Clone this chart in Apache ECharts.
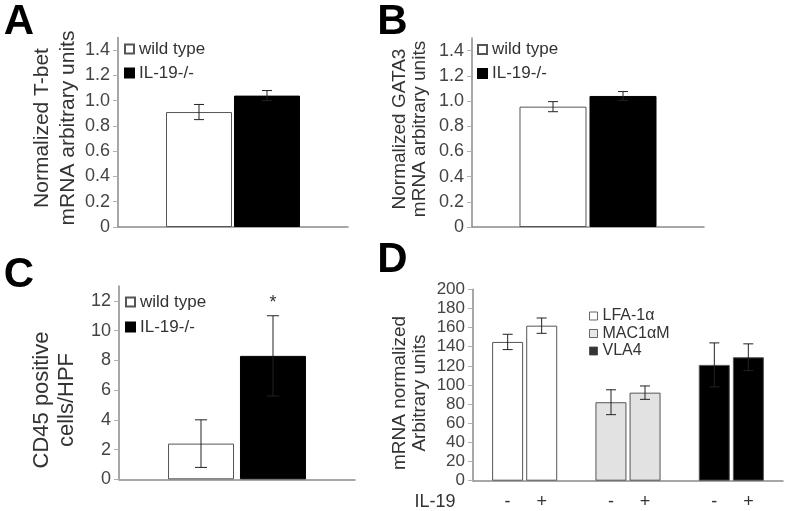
<!DOCTYPE html>
<html>
<head>
<meta charset="utf-8">
<script src="https://cdn.jsdelivr.net/npm/echarts@6/dist/echarts.min.js"></script>
<style>
html, body { margin: 0; padding: 0; background: #fff; }
#main { width: 788px; height: 511px; }
</style>
</head>
<body>
<div id="main"></div>
<script>
// data
var groupNames = ['wild type', 'IL-19-/-'];

var tbetMean = [0.91, 1.04];     // panel A
var tbetErr = [0.06, 0.04];
var gataMean = [0.955, 1.04];    // panel B
var gataErr = [0.04, 0.035];
var cd45Mean = [2.4, 8.3];       // panel C
var cd45Err = [1.6, 2.7];
var cd45Marks = ['', '*'];

var integrins = ['LFA-1α', 'MAC1αM', 'VLA4'];   // panel D
var il19Signs = ['-', '+'];
var minusMean = [145, 82, 121];
var minusErr = [8, 13, 23];
var plusMean = [162, 92, 129];
var plusErr = [8, 7, 14];

var mrnaMax = 1.5, mrnaStep = 0.2;
var cellsMax = 13, cellsStep = 2;
var unitsMax = 200, unitsStep = 20;

var FONT = "'Liberation Sans', Arial, sans-serif";
var integrinColors = ['#ffffff', '#e2e2e2', '#000000'];
var groupStyles = [
    { color: '#ffffff', borderColor: '#555', borderWidth: 1 },
    { color: '#000000', borderColor: '#000', borderWidth: 1 }
];

var myChart = echarts.init(document.getElementById('main'));

function yAxisFor(idx, max, step, size, fmt) {
    return {
        type: 'value',
        gridIndex: idx,
        min: 0,
        max: max,
        interval: step,
        axisLine: { show: true, lineStyle: { color: '#8a8a8a', width: 1.5 } },
        axisTick: { show: true, length: 5, lineStyle: { color: '#b0b0b0' } },
        splitLine: { show: false },
        axisLabel: { fontSize: size, color: '#444', margin: 8, fontFamily: FONT, formatter: fmt }
    };
}

function xAxisFor(idx, cats) {
    return {
        type: 'category',
        gridIndex: idx,
        data: cats,
        axisLine: { show: true, lineStyle: { color: '#8a8a8a', width: 1.5 } },
        axisTick: { show: false },
        axisLabel: { show: false },
        splitLine: { show: false }
    };
}

function errorBars(idx, items, offsets, cap, marks) {
    return {
        type: 'custom',
        xAxisIndex: idx,
        yAxisIndex: idx,
        silent: true,
        z: 5,
        data: items,
        renderItem: function (params, api) {
            var top = api.coord([api.value(0), api.value(1) + api.value(2)]);
            var low = api.coord([api.value(0), api.value(1) - api.value(2)]);
            var x = top[0] + offsets[params.dataIndex];
            var st = { stroke: '#222', lineWidth: 1 };
            var kids = [
                { type: 'line', shape: { x1: x, y1: top[1], x2: x, y2: low[1] }, style: st },
                { type: 'line', shape: { x1: x - cap, y1: top[1], x2: x + cap, y2: top[1] }, style: st },
                { type: 'line', shape: { x1: x - cap, y1: low[1], x2: x + cap, y2: low[1] }, style: st }
            ];
            if (marks && marks[params.dataIndex]) {
                kids.push({
                    type: 'text', x: x, y: top[1] - 13,
                    style: { text: marks[params.dataIndex], align: 'center', verticalAlign: 'middle',
                             fontSize: 18, fontFamily: FONT, fill: '#333' }
                });
            }
            return { type: 'group', children: kids };
        }
    };
}

// two bars in one category (panels A-C)
function pairSeries(idx, means, width, gap) {
    return groupNames.map(function (name, k) {
        return {
            type: 'bar',
            name: name,
            xAxisIndex: idx,
            yAxisIndex: idx,
            data: [means[k]],
            barWidth: width,
            barGap: gap,
            itemStyle: groupStyles[k]
        };
    });
}

function pairErrors(idx, means, errs, half, cap, marks) {
    return errorBars(idx, [[0, means[0], errs[0]], [0, means[1], errs[1]]], [-half, half], cap, marks);
}

function groupLegend(left, top, gap) {
    return {
        data: groupNames,
        orient: 'vertical',
        left: left,
        top: top,
        padding: 0,
        icon: 'rect',
        itemWidth: 9,
        itemHeight: 9,
        itemGap: gap,
        selectedMode: false,
        textStyle: { fontSize: 17, lineHeight: 17, color: '#333', fontFamily: FONT, padding: [0, 0, 0, 0] }
    };
}

var oneDec = function (v) { return v === 0 ? '0' : v.toFixed(1); };
var plain = function (v) { return String(v); };

var series = [];
series = series.concat(pairSeries(0, tbetMean, 66, '3%'));
series.push(pairErrors(0, tbetMean, tbetErr, 34, 5));
series = series.concat(pairSeries(1, gataMean, 67, '4.5%'));
series.push(pairErrors(1, gataMean, gataErr, 35, 5));
series = series.concat(pairSeries(2, cd45Mean, 66, '9%'));
series.push(pairErrors(2, cd45Mean, cd45Err, 36, 6, cd45Marks));

[minusMean, plusMean].forEach(function (means, s) {
    series.push({
        type: 'bar',
        name: 'IL-19 ' + il19Signs[s],
        xAxisIndex: 3,
        yAxisIndex: 3,
        barWidth: 31,
        barGap: '10%',
        itemStyle: { borderColor: '#555', borderWidth: 1 },
        label: {
            show: true, position: 'bottom', distance: 12, formatter: il19Signs[s],
            fontSize: 18, color: '#333', fontFamily: FONT
        },
        data: means.map(function (v, k) {
            return { value: v, itemStyle: { color: integrinColors[k] } };
        })
    });
});
series.push(errorBars(3, minusMean.map(function (v, k) { return [k, v, minusErr[k]]; }), [-17, -17, -17], 5));
series.push(errorBars(3, plusMean.map(function (v, k) { return [k, v, plusErr[k]]; }), [17, 17, 17], 5));
// legend entries for panel D
integrins.forEach(function (name, k) {
    series.push({ type: 'scatter', name: name, xAxisIndex: 3, yAxisIndex: 3, data: [],
                  itemStyle: { color: integrinColors[k], borderColor: '#444', borderWidth: 1 } });
});

function vTitle(x, y, text, size, lh) {
    return {
        type: 'text', x: x, y: y, rotation: Math.PI / 2,
        style: { text: text, align: 'center', verticalAlign: 'middle', fontSize: size,
                 lineHeight: lh, fill: '#333', fontFamily: FONT }
    };
}
function letter(x, y, text) {
    return {
        type: 'text', x: x, y: y,
        style: { text: text, align: 'center', verticalAlign: 'middle', fontSize: 42,
                 fontWeight: 'bold', fill: '#000', fontFamily: FONT }
    };
}

var option = {
    animation: false,
    backgroundColor: '#fff',
    grid: [
        { left: 118, top: 37.5, width: 230, height: 189.5 },
        { left: 472, top: 38, width: 232, height: 189 },
        { left: 119, top: 286, width: 236, height: 193.3 },
        { left: 473, top: 289.3, width: 310, height: 191.4 }
    ],
    xAxis: [xAxisFor(0, ['']), xAxisFor(1, ['']), xAxisFor(2, ['']), xAxisFor(3, integrins)],
    yAxis: [
        yAxisFor(0, mrnaMax, mrnaStep, 18, oneDec),
        yAxisFor(1, mrnaMax, mrnaStep, 18, oneDec),
        yAxisFor(2, cellsMax, cellsStep, 18, plain),
        yAxisFor(3, unitsMax, unitsStep, 17, plain)
    ],
    legend: [
        groupLegend(124, 40.5, 7),
        groupLegend(477, 41, 7),
        groupLegend(125, 293.5, 8),
        {
            data: integrins.map(function (n, k) {
                return { name: n, itemStyle: { color: integrinColors[k], borderColor: '#444', borderWidth: 1 } };
            }),
            orient: 'vertical',
            left: 589,
            top: 308,
            padding: 0,
            icon: 'rect',
            itemWidth: 8,
            itemHeight: 8,
            itemGap: 1.5,
            selectedMode: false,
            textStyle: { fontSize: 16, lineHeight: 16, color: '#333', fontFamily: FONT }
        }
    ],
    graphic: [
        letter(19, 22.5, 'A'),
        letter(392.5, 22.5, 'B'),
        letter(19, 275, 'C'),
        letter(392.5, 260.5, 'D'),
        vTitle(55.5, 128, 'Normalized T-bet\nmRNA arbitrary units', 21, 26),
        vTitle(409.5, 129, 'Normalized GATA3\nmRNA arbitrary units', 19, 20),
        vTitle(54.5, 400, 'CD45 positive\ncells/HPF', 22, 25),
        vTitle(410, 393, 'mRNA normalized\nArbitrary units', 19, 20.5),
        {
            type: 'text', x: 414.5, y: 502,
            style: { text: 'IL-19', align: 'left', verticalAlign: 'middle', fontSize: 18,
                     fill: '#333', fontFamily: FONT }
        }
    ],
    series: series
};

myChart.setOption(option);
</script>
</body>
</html>
